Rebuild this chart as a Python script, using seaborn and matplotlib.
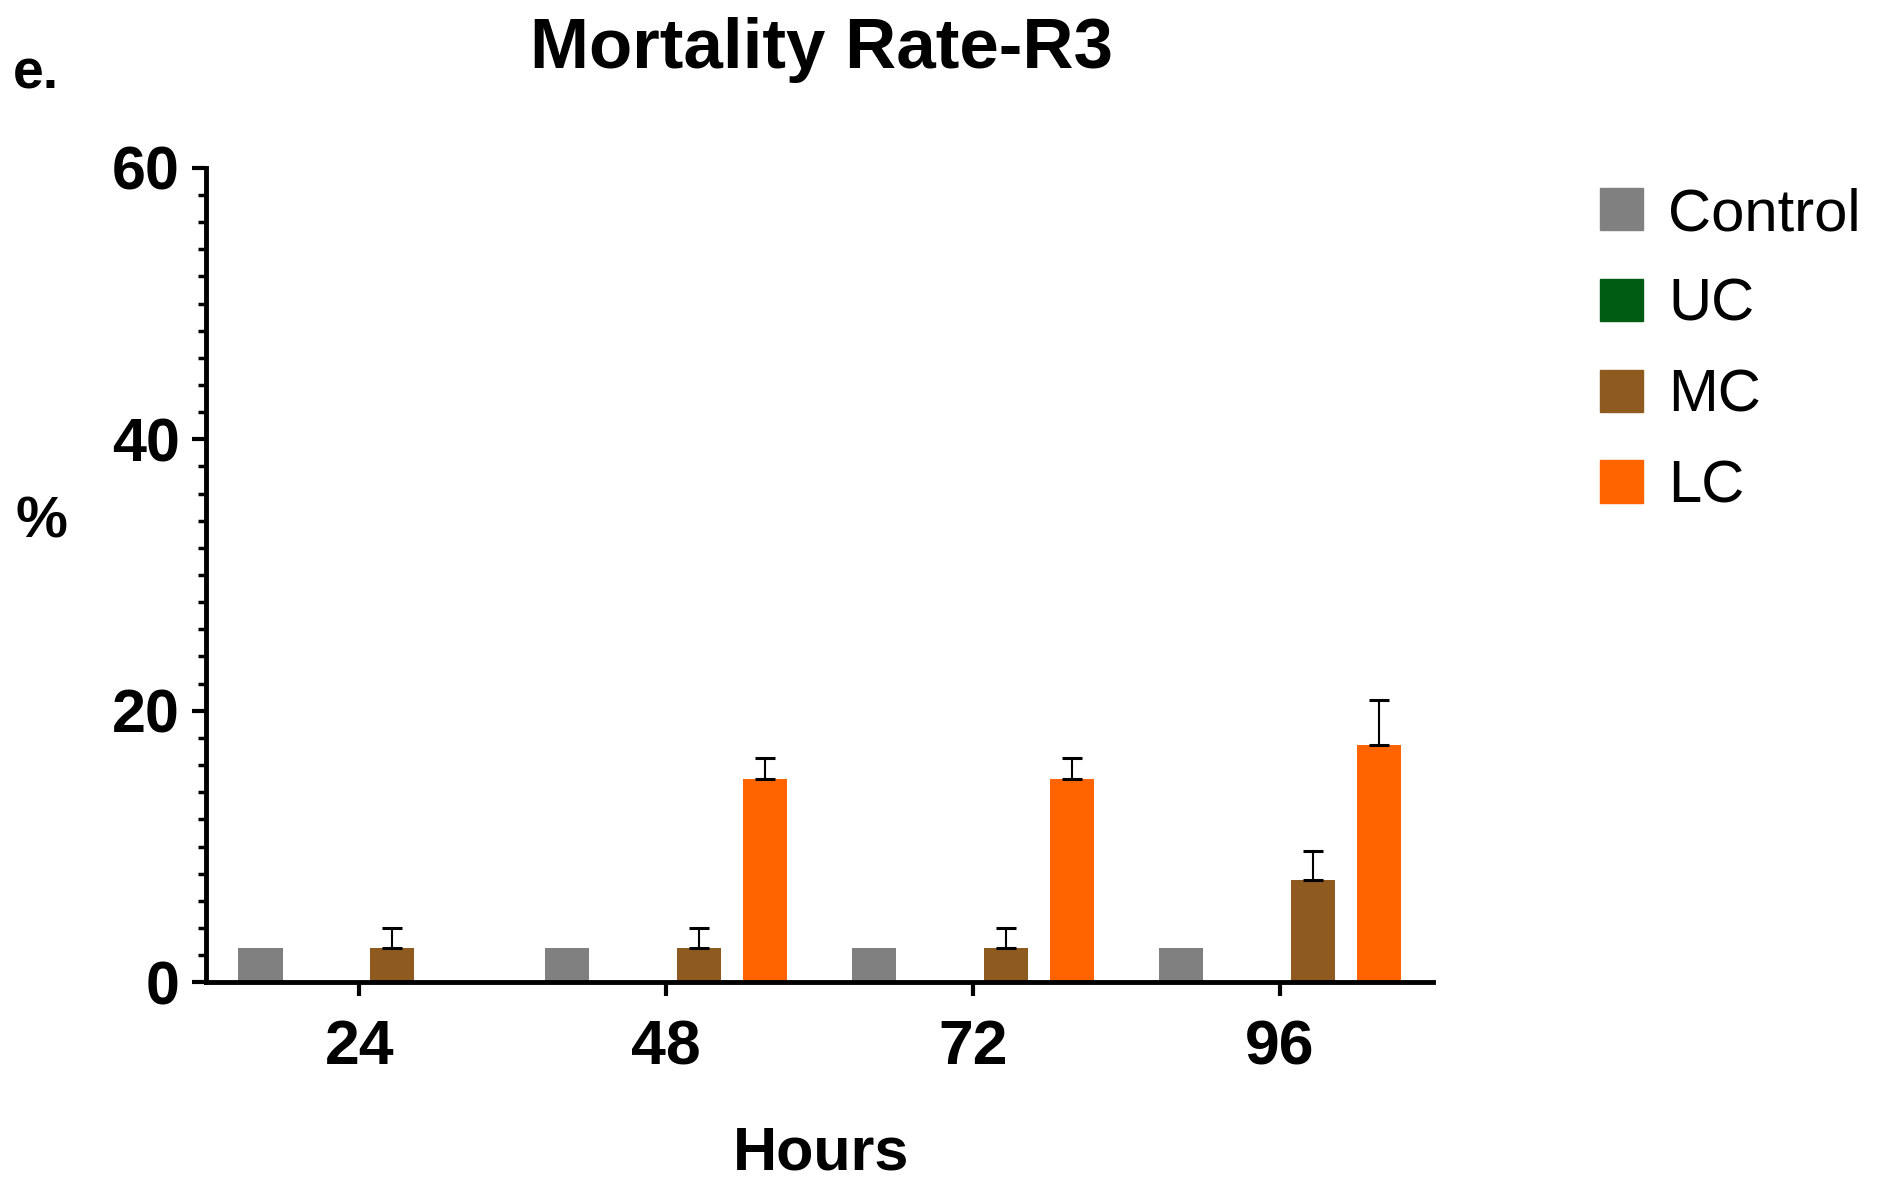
import numpy as np
import pandas as pd
import matplotlib
matplotlib.use("Agg")
import matplotlib.pyplot as plt
import seaborn as sns
from matplotlib.ticker import MultipleLocator

# ---- data ----
hours = ["24", "48", "72", "96"]
groups = ["Control", "UC", "MC", "LC"]
control_mean = [2.5, 2.5, 2.5, 2.5]
uc_mean = [0.0, 0.0, 0.0, 0.0]
mc_mean = [2.5, 2.5, 2.5, 7.5]
lc_mean = [0.0, 15.0, 15.0, 17.5]
control_err = [0.0, 0.0, 0.0, 0.0]
uc_err = [0.0, 0.0, 0.0, 0.0]
mc_err = [1.5, 1.5, 1.5, 2.2]
lc_err = [0.0, 1.5, 1.5, 3.3]
colors = ["#808080", "#005c12", "#8e5a1f", "#ff6400"]

means = [control_mean, uc_mean, mc_mean, lc_mean]
errs = [control_err, uc_err, mc_err, lc_err]

df = pd.DataFrame({
    "Hours": [h for g in groups for h in hours],
    "Group": [g for g in groups for h in hours],
    "Value": [v for m in means for v in m],
})

sns.set_style("ticks")
plt.rcParams['font.family'] = ['Liberation Sans', 'DejaVu Sans']
plt.rcParams['text.color'] = 'black'
plt.rcParams['xtick.labelcolor'] = 'black'
plt.rcParams['ytick.labelcolor'] = 'black'

fig = plt.figure(figsize=(18.81, 11.82), dpi=100)
ax = fig.add_axes([0.1095, 0.169, 0.6525, 0.689])

sns.barplot(data=df, x="Hours", y="Value", hue="Group", order=hours, hue_order=groups,
            palette=colors, width=0.86, gap=0.33, linewidth=0, errorbar=None,
            saturation=1, ax=ax, legend=False)

# upper-only error bars on top of each bar
for cont, err in zip(ax.containers, errs):
    for bar, e in zip(cont, err):
        if e > 0:
            xc = bar.get_x() + bar.get_width() / 2
            ax.errorbar(xc, bar.get_height(), yerr=[[0], [e]], fmt="none",
                        ecolor="black", elinewidth=1.5, capsize=7, capthick=2.2)

ax.set_ylim(0, 60)
ax.set_xlim(-0.5, 3.5)
ax.yaxis.set_major_locator(MultipleLocator(20))
ax.yaxis.set_minor_locator(MultipleLocator(2))
for s in ["top", "right"]:
    ax.spines[s].set_visible(False)
for s in ["left", "bottom"]:
    ax.spines[s].set_linewidth(3.5)
    ax.spines[s].set_color("black")
ax.tick_params(axis="y", which="major", length=10, width=3, pad=9,
               labelsize=44, color="black")
ax.tick_params(axis="y", which="minor", length=6, width=2.5, color="black")
ax.tick_params(axis="x", which="major", length=10, width=3, pad=16,
               labelsize=45, color="black")
for lbl in ax.get_xticklabels() + ax.get_yticklabels():
    lbl.set_fontweight("bold")
ax.set_xlabel("")
ax.set_ylabel("")

fig.text(0.4365, 0.0237, "Hours", ha="center", va="center", fontsize=44, fontweight="bold")
fig.text(0.022, 0.558, "%", ha="center", va="center", fontsize=42, fontweight="bold")
fig.text(0.4365, 0.958, "Mortality Rate-R3", ha="center", va="center", fontsize=51, fontweight="bold")
fig.text(0.007, 0.937, "e.", ha="left", va="center", fontsize=40, fontweight="bold")

handles = [plt.Rectangle((0, 0), 1, 1, color=c) for c in colors]
fig.legend(handles, groups, loc="upper left", bbox_to_anchor=(0.838, 0.862),
           frameon=False, fontsize=43, handlelength=0.72, handleheight=0.72,
           handletextpad=0.42, labelspacing=0.6, borderaxespad=0)

fig.savefig("out.png", dpi=100)
